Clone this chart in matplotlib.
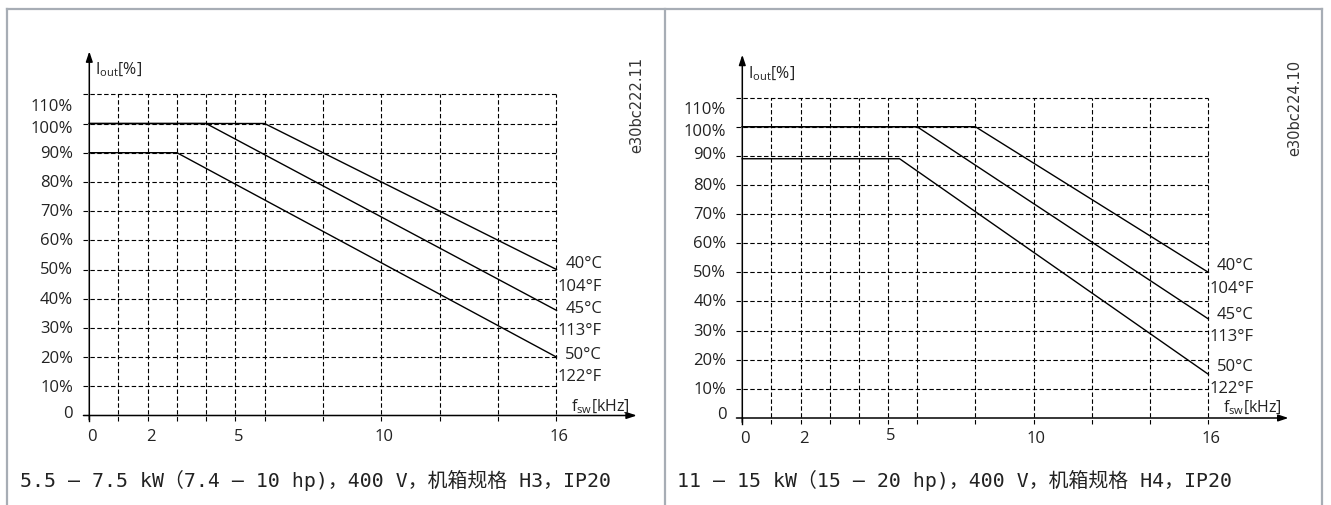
import matplotlib
matplotlib.use("Agg")
import matplotlib.pyplot as plt
from matplotlib.lines import Line2D

plt.rcParams['font.family'] = ['Open Sans', 'DejaVu Sans']
plt.rcParams['mathtext.fontset'] = 'custom'
plt.rcParams['mathtext.rm'] = 'Open Sans'
plt.rcParams['mathtext.it'] = 'Open Sans'

# switching frequency grid (kHz) and current grid (%)
grid_x = [1, 2, 3, 4, 5, 6, 8, 10, 12, 14, 16]
grid_y = [10, 20, 30, 40, 50, 60, 70, 80, 90, 100, 110]
x_ticks = [0, 2, 5, 10, 16]
y_tick_labels = ['0', '10%', '20%', '30%', '40%', '50%', '60%', '70%', '80%', '90%', '100%', '110%']

# left panel: H3
h3_40_x = [0, 6, 16]
h3_40_y = [100, 100, 50]
h3_45_x = [0, 4, 16]
h3_45_y = [100, 100, 36]
h3_50_x = [0, 3, 16]
h3_50_y = [90, 90, 20]

# right panel: H4
h4_40_x = [0, 8, 16]
h4_40_y = [100, 100, 50]
h4_45_x = [0, 6, 16]
h4_45_y = [100, 100, 34]
h4_50_x = [0, 5.4, 16]
h4_50_y = [89, 89, 15]

temp_labels = ['40°C', '104°F', '45°C', '113°F', '50°C', '122°F']

W, H = 1331, 506
fig = plt.figure(figsize=(W / 100, H / 100), dpi=100)
txt = '#222222'


def make_axes(ox, oy, sx, sy):
    x0, x1 = -3.0, 19.5
    y0, y1 = -30.0, 130.0
    rect = [(ox + x0 * sx) / W, 1 - (oy - y0 * sy) / H,
            (x1 - x0) * sx / W, (y1 - y0) * sy / H]
    ax = fig.add_axes(rect)
    ax.set_xlim(x0, x1)
    ax.set_ylim(y0, y1)
    ax.axis('off')
    ax.patch.set_visible(False)
    return ax


def draw_panel(ax, curves, ylab_pos, temp_y, fsw_y, tick_shift):
    # dashed grid
    for gy in grid_y:
        ax.plot([-0.2, 16], [gy, gy], color='black', lw=0.8, ls=(0, (4, 2.2)))
    for gx in grid_x:
        ax.plot([gx, gx], [-2, 110], color='black', lw=0.8, ls=(0, (4, 2.2)))
    ax.plot([0, 0], [-2, 0], color='black', lw=1.0)

    # axes with arrows
    ax.annotate('', xy=(18.75, 0), xytext=(-0.2, 0),
                arrowprops=dict(arrowstyle='-|>,head_length=0.6,head_width=0.2',
                                lw=1.1, color='black', shrinkA=0, shrinkB=0))
    ax.annotate('', xy=(0, 124.7), xytext=(0, -1.5),
                arrowprops=dict(arrowstyle='-|>,head_length=0.6,head_width=0.2',
                                lw=1.1, color='black', shrinkA=0, shrinkB=0))

    # derating curves
    for cx, cy in curves:
        ax.plot(cx, cy, color='black', lw=1.0, solid_joinstyle='miter')

    # tick labels
    for lab, yp in zip(y_tick_labels, ylab_pos):
        ax.text(-0.55, yp, lab, ha='right', va='center', fontsize=12, color=txt)
    for xv in x_ticks:
        ax.text(xv + 0.1, -6.9 + tick_shift.get(xv, 0), str(xv), ha='center', va='center',
                fontsize=12, color=txt)

    # temperature labels
    for i, (lab, yp) in enumerate(zip(temp_labels, temp_y)):
        xp = 16.3 if i % 2 == 0 else 16.05
        ax.text(xp, yp, lab, ha='left', va='center', fontsize=12, color=txt)

    ax.text(0.2, 118.6, r'I$_{\mathrm{out}}$[%]', ha='left', va='center', fontsize=11.5, color=txt)
    ax.text(16.5, fsw_y, r'f$_{\mathrm{sw}}$[kHz]', ha='left', va='center', fontsize=11.5, color=txt)


ax1 = make_axes(89.3, 416.5, 29.2, 2.92)
draw_panel(ax1,
           [(h3_40_x, h3_40_y), (h3_45_x, h3_45_y), (h3_50_x, h3_50_y)],
           [1, 9.8, 19.7, 30, 40, 50, 60, 70, 80, 90, 98.5, 106],
           [52.2, 44.5, 36.7, 29.4, 21.1, 13.6], 3.4, {})

ax2 = make_axes(742.3, 419.0, 29.13, 2.913)
draw_panel(ax2,
           [(h4_40_x, h4_40_y), (h4_45_x, h4_45_y), (h4_50_x, h4_50_y)],
           [1.4, 10, 20, 30, 40, 50, 60, 70, 80, 90.6, 98.5, 106],
           [52.5, 44.5, 35.7, 28, 18, 10.3], 3.9, {5: 1.1})

# drawing codes
fig.text(637 / W, 1 - 105 / H, 'e30bc222.11', rotation=90, ha='center', va='center',
         fontsize=10.5, color='#333333', family='DejaVu Sans')
fig.text(1295 / W, 1 - 108 / H, 'e30bc224.10', rotation=90, ha='center', va='center',
         fontsize=10.5, color='#333333', family='DejaVu Sans')

# captions
cap_font = ['DejaVu Sans Mono', 'Noto Sans CJK SC']
fig.text(20 / W, 1 - 480 / H, '5.5 – 7.5 kW（7.4 – 10 hp)，400 V，机箱规格 H3，IP20',
         ha='left', va='center', fontsize=14.3, color=txt, family=cap_font)
fig.text(677 / W, 1 - 480 / H, '11 – 15 kW（15 – 20 hp)，400 V，机箱规格 H4，IP20',
         ha='left', va='center', fontsize=14.3, color=txt, family=cap_font)

# table frame
frame = '#a7adb5'
fig.add_artist(Line2D([7 / W, 1322 / W], [1 - 10 / H, 1 - 10 / H], color=frame, lw=1.6))
for xp in [7, 665, 1322]:
    fig.add_artist(Line2D([xp / W, xp / W], [0, 1 - 10 / H], color=frame, lw=1.6))

fig.savefig('out.png', dpi=100)
